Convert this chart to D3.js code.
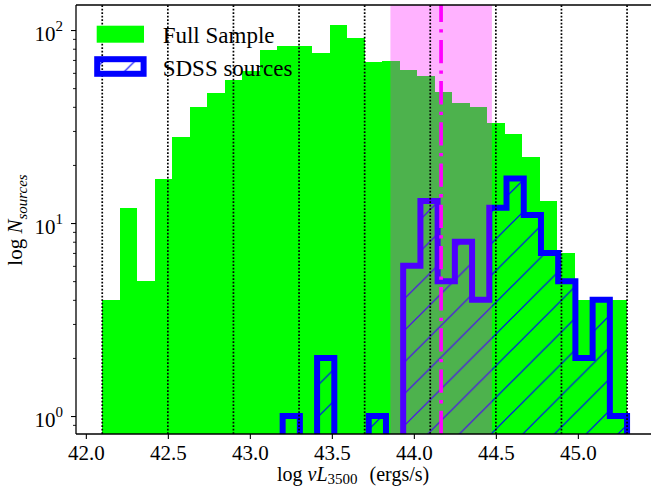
<!DOCTYPE html>
<html>
<head>
<meta charset="utf-8">
<script src="https://cdn.jsdelivr.net/npm/d3@7"></script>
<style>
  html, body { margin: 0; padding: 0; background: #fff; }
  svg { display: block; }
  text { font-family: "Liberation Serif", "DejaVu Serif", serif; fill: #000; }
</style>
</head>
<body>
<svg id="chart" width="651" height="496"></svg>
<script>
// ---------------- data ----------------
const fullEdges = [42.100, 42.207, 42.313, 42.420, 42.527, 42.633, 42.740, 42.847, 42.953, 43.060,
                   43.167, 43.273, 43.380, 43.487, 43.593, 43.700, 43.807, 43.913, 44.020, 44.127,
                   44.233, 44.340, 44.447, 44.553, 44.660, 44.767, 44.873, 44.980, 45.087, 45.193, 45.300];
const fullCounts = [4, 12, 5, 17, 28, 40, 47, 55, 61, 79,
                    83, 83, 76, 106, 91, 68, 69, 62, 58, 48,
                    42, 40, 33, 29, 22, 13, 7, 4, 4, 4];
const sdssEdges = [43.200, 43.305, 43.410, 43.515, 43.620, 43.725, 43.830, 43.935, 44.040, 44.145,
                   44.250, 44.355, 44.460, 44.565, 44.670, 44.775, 44.880, 44.985, 45.090, 45.195, 45.300];
const sdssCounts = [1, 0, 2, 0, 0, 1, 0, 6, 13, 5, 8, 4, 12, 17, 11, 7, 5, 2, 4, 1];
const dottedLines = [42.1, 42.5, 42.9, 43.3, 43.7, 44.1, 44.5, 44.9, 45.3];
const spanRange = [43.857, 44.476];
const centerLine = 44.166;
const xTicks = [42.0, 42.5, 43.0, 43.5, 44.0, 44.5, 45.0];
const yMajorTicks = [1, 10, 100];
const yMajorExp = ["0", "1", "2"];
const yMinorTicks = [0.9, 2, 3, 4, 5, 6, 7, 8, 9, 20, 30, 40, 50, 60, 70, 80, 90];
const legendLabels = ["Full Sample", "SDSS sources"];

// ---------------- layout ----------------
const L = 76, R = 653.3, T = 5, B = 434;
const svg = d3.select("#chart");
const x = d3.scaleLinear().domain([41.94, 45.46]).range([L, R]);
const y = d3.scaleLog().domain([0.807, 134.8]).range([B, T]);

const defs = svg.append("defs");
defs.append("clipPath").attr("id", "clip")
  .append("rect").attr("x", L).attr("y", T).attr("width", R - L).attr("height", B - T);

const P = 31.7;
const pat = defs.append("pattern").attr("id", "hatch")
  .attr("patternUnits", "userSpaceOnUse")
  .attr("x", 5.8).attr("y", 0).attr("width", P).attr("height", P);
pat.append("path")
  .attr("d", `M-1,${P + 1}L${P + 1},-1M-1,1L1,-1M${P - 1},${P + 1}L${P + 1},${P - 1}`)
  .attr("stroke", "#0000ff").attr("stroke-width", 1.2).attr("fill", "none");

const plot = svg.append("g").attr("clip-path", "url(#clip)");

// full sample bars
plot.append("g").selectAll("rect").data(fullCounts).join("rect")
  .attr("x", (d, i) => x(fullEdges[i]))
  .attr("width", (d, i) => x(fullEdges[i + 1]) - x(fullEdges[i]))
  .attr("y", d => y(d))
  .attr("height", d => B - y(d))
  .attr("fill", "#00ff00")
  .attr("shape-rendering", "crispEdges");

// SDSS step histogram (hatched)
const yb = B + 60;
const pts = [[x(sdssEdges[0]), yb]];
sdssCounts.forEach((c, i) => {
  const yy = c > 0 ? y(c) : yb;
  pts.push([x(sdssEdges[i]), yy]);
  pts.push([x(sdssEdges[i + 1]), yy]);
});
pts.push([x(sdssEdges[sdssEdges.length - 1]), yb]);
plot.append("path")
  .attr("d", d3.line()(pts) + "Z")
  .attr("fill", "url(#hatch)")
  .attr("stroke", "#0000ff")
  .attr("stroke-width", 6)
  .attr("stroke-linejoin", "miter");

// span
plot.append("rect")
  .attr("x", x(spanRange[0])).attr("width", x(spanRange[1]) - x(spanRange[0]))
  .attr("y", T).attr("height", B - T)
  .attr("fill", "#ff00ff").attr("fill-opacity", 0.3);

// dotted vertical lines
plot.append("g").selectAll("line").data(dottedLines).join("line")
  .attr("x1", d => x(d)).attr("x2", d => x(d))
  .attr("y1", B).attr("y2", T)
  .attr("stroke", "#000").attr("stroke-width", 1.7)
  .attr("stroke-dasharray", "1.7 1.8");

// magenta dash-dot line
plot.append("line")
  .attr("x1", x(centerLine)).attr("x2", x(centerLine))
  .attr("y1", B).attr("y2", T)
  .attr("stroke", "#ff00ff").attr("stroke-width", 3.7)
  .attr("stroke-dasharray", "23.3 7.3 3.3 7.3");

// spines
const sp = svg.append("g").attr("stroke", "#000").attr("stroke-width", 1.3).attr("fill", "none");
sp.append("line").attr("x1", L).attr("x2", L).attr("y1", T).attr("y2", B);
sp.append("line").attr("x1", L).attr("x2", R).attr("y1", T).attr("y2", T);
sp.append("line").attr("x1", L).attr("x2", R).attr("y1", B).attr("y2", B);
sp.append("line").attr("x1", R).attr("x2", R).attr("y1", T).attr("y2", B);

// x axis
const xa = svg.append("g").attr("transform", `translate(0,${B})`)
  .call(d3.axisBottom(x).tickValues(xTicks).tickFormat(d3.format(".1f")).tickSize(5).tickPadding(8));
xa.select(".domain").remove();
xa.selectAll("line").attr("stroke-width", 1.1);
xa.selectAll("text").attr("font-size", "21px").attr("dy", null).attr("y", 26)
  .style("font-family", '"Liberation Serif", serif');

// y axis major
const ya = svg.append("g").attr("transform", `translate(${L},0)`)
  .call(d3.axisLeft(y).tickValues(yMajorTicks).tickFormat("").tickSize(5));
ya.select(".domain").remove();
ya.selectAll("line").attr("stroke-width", 1.1);
ya.selectAll(".tick").each(function (d, i) {
  const t = d3.select(this).append("text")
    .attr("x", -13).attr("y", 10)
    .attr("text-anchor", "end")
    .attr("font-size", "21px");
  t.append("tspan").text("10");
  t.append("tspan").attr("font-size", "15px").attr("dy", -10).text(yMajorExp[i]);
});
// y axis minor
const ym = svg.append("g").attr("transform", `translate(${L},0)`)
  .call(d3.axisLeft(y).tickValues(yMinorTicks).tickFormat("").tickSize(3));
ym.select(".domain").remove();
ym.selectAll("line").attr("stroke-width", 0.9);

// axis labels
const xl = svg.append("text").attr("x", 277).attr("y", 481).attr("font-size", "20px");
xl.append("tspan").text("log ");
xl.append("tspan").attr("font-style", "italic").text("νL");
xl.append("tspan").attr("font-size", "15px").attr("dy", 3).text("3500");
xl.append("tspan").attr("dy", -3).attr("xml:space", "preserve").attr("dx", 12).text("(ergs/s)");

const yl = svg.append("text").attr("transform", "translate(22,220) rotate(-90)")
  .attr("text-anchor", "middle").attr("font-size", "21px");
yl.append("tspan").text("log ");
yl.append("tspan").attr("font-style", "italic").text("N");
yl.append("tspan").attr("font-style", "italic").attr("font-size", "15px").attr("dy", 5).text("sources");

// legend
const lg = svg.append("g");
lg.append("rect").attr("x", 96.7).attr("y", 25.7).attr("width", 47.3).attr("height", 17).attr("fill", "#00ff00");
lg.append("rect").attr("x", 97.2).attr("y", 59.2).attr("width", 46.4).attr("height", 14.6)
  .attr("fill", "url(#hatch)").attr("stroke", "#0000ff").attr("stroke-width", 6);
lg.selectAll("text.leg").data(legendLabels).join("text").attr("class", "leg")
  .attr("x", 162.7).attr("y", (d, i) => [42.7, 76][i])
  .attr("font-size", "23px").text(d => d);
</script>
</body>
</html>
